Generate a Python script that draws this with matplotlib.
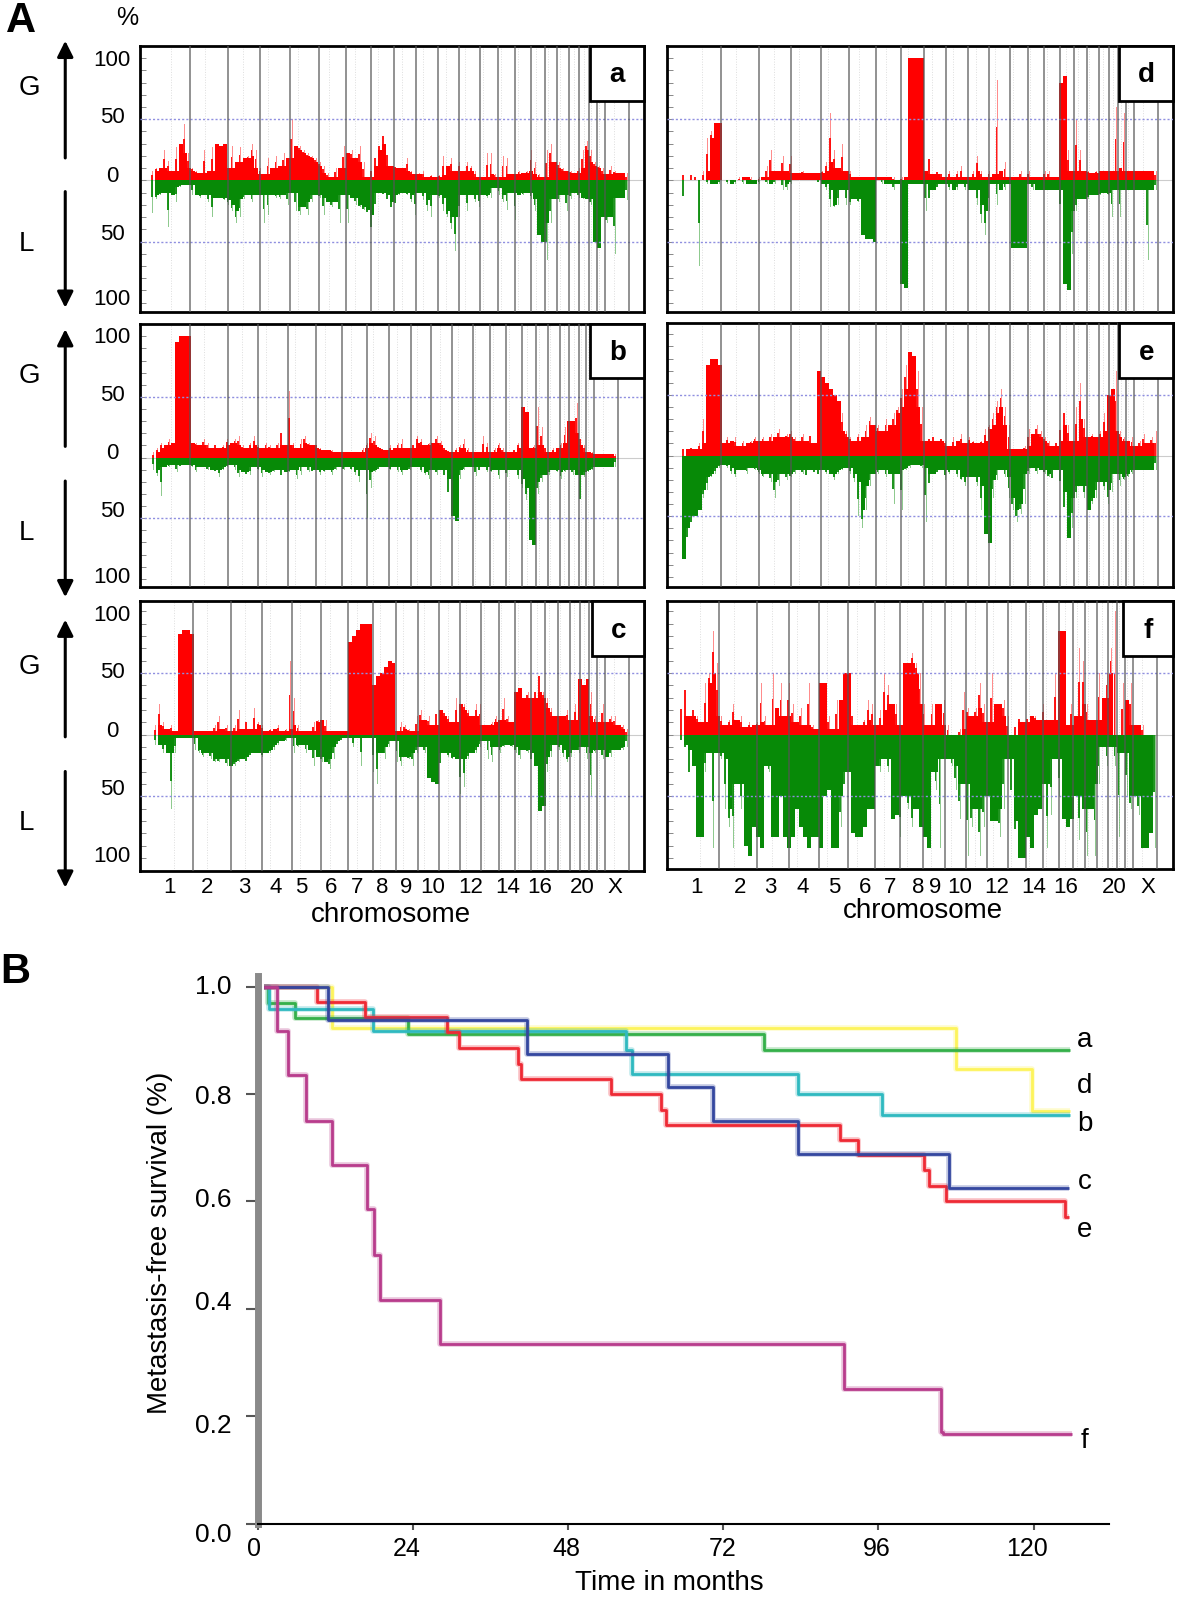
import matplotlib
matplotlib.use('Agg')
import matplotlib.pyplot as plt
import numpy as np
from matplotlib.patches import FancyArrowPatch, Rectangle

plt.rcParams['font.family'] = ['Liberation Sans', 'DejaVu Sans']

# chromosome lengths (Mb) and rough centromere positions
chrom_len = [247, 243, 199, 191, 181, 171, 159, 146, 140, 135, 134, 132,
             114, 106, 100, 89, 79, 76, 64, 62, 47, 50, 155]
centromeres = [125, 93, 91, 50, 48, 61, 60, 45, 49, 40, 54, 36, 18, 17, 18, 36, 24, 17, 28, 28, 13, 14, 60]

a_gain = [8,10,10,25,16,8,27,30,46,22, 10,8,6,25,8,27,30,28,30,10,
          28,15,27,18,20,30,25,10, 5,18,10,20,12,22,18, 50,28,28,25,22,20,18,
          15,12,6,3,10,10,28, 22,25,18,28,15,3, 12,25,32,42,30,12,
          12,10,10,18,8,5, 6,8,3,4,3, 4,20,12,18,8, 15,8,15,12,8,3,
          3,22,22,5, 3,20,18,5, 5,8,6,8, 25,15,5,3, 25,30,15, 15,10,8,
          8,6,10, 25,32, 25,15, 12,10, 5,12,8,6,6,6]
a_loss = [27,15,12,10,38,12,18,5,4,4, 12,12,14,12,18,30,14,14,16,20,
          25,35,30,15,12,18,12,12, 35,28,12,14,15,12,20, 10,25,28,22,28,18,12,
          14,28,18,22,18,35,12, 35,14,20,22,24,28, 48,28,10,12,18,25,
          25,12,10,12,18,28, 10,16,25,30,12, 14,25,30,40,58, 30,12,25,12,18,22,
          12,14,14,6, 12,18,24,10, 32,12,12,10, 15,25,45,50, 65,35,15, 18,12,25,
          15,10,14, 15,15, 20,50, 55,30, 35,30,60,14,14,16]

b_gain = [5,8,12,10,15,12,95,100,100,100, 12,12,10,15,12,8,12,8,10,15,
          12,15,18,10,8,12,18,10, 8,12,10,8,12,30,10, 55,12,8,15,18,12,10,
          12,8,6,6,6,5,5, 5,5,5,5,5,8, 12,20,18,10,8,6,
          10,8,12,15,8,8, 12,18,15,10,12, 12,18,14,10,6, 5,8,10,15,8,5,
          5,5,18,12, 5,8,12,8, 5,5,8,12, 42,38,8,10, 42,25,10, 5,8,8,
          12,25,30, 30,45, 20,10, 5,5, 3,3,3,3,3,3]
b_loss = [10,15,32,8,8,6,12,8,6,6, 8,12,8,8,10,10,12,16,10,8,
          6,10,16,12,15,14,8,10, 16,12,14,12,10,18,12, 12,10,18,14,8,12,12,
          10,14,12,10,14,10,8, 10,8,10,14,20,10, 50,25,12,10,8,8,
          10,8,12,14,10,10, 8,8,12,14,18, 10,14,10,18,38, 48,52,18,10,8,8,
          15,12,8,12, 12,10,18,10, 16,10,10,18, 25,35,68,72, 30,20,14, 14,10,12,
          18,12,10, 14,14, 55,16, 12,10, 8,8,8,8,8,8]

c_gain = [8,25,10,5,8,3,82,85,85,82, 3,3,3,3,3,8,15,5,8,3,
          8,20,5,15,5,22,10,8, 3,5,5,8,3,5,60, 30,8,3,3,3,10,12,
          12,12,3,3,3,3,3, 75,80,85,90,90,90, 40,48,50,55,60,58,
          3,10,8,5,3,15, 20,12,15,8,25, 20,20,15,10,30, 25,25,20,15,25,25,
          8,8,10,15, 12,30,15,10, 35,38,30,35, 30,40,60,35, 30,22,15, 15,15,20,
          12,25,45, 40,45, 35,15, 10,25, 10,15,15,8,8,5]
c_loss = [8,8,15,15,60,15,3,3,3,3, 12,15,18,15,20,22,22,20,25,25,
          25,22,20,25,18,15,15,18, 15,15,12,8,5,5,3, 15,10,8,15,12,25,18,
          22,22,28,20,10,5,3, 3,10,3,25,3,3, 30,40,15,20,10,5,
          22,25,18,20,25,15, 10,15,35,38,40, 30,15,18,20,20, 48,42,20,15,15,10,
          5,20,22,10, 15,10,8,10, 15,20,12,15, 25,25,62,58, 30,18,8, 12,18,22,
          18,12,15, 10,20, 50,15, 12,20, 18,18,12,12,12,10]

d_gain = [8,0,8,5,0,8,35,40,47,47, 0,0,0,0,3,3,3,3,0,3,
          3,12,25,8,8,20,8,20, 6,6,8,6,6,6,6, 8,15,55,25,10,30,8,
          8,3,3,3,3,3,3, 3,3,3,3,3,0, 3,3,100,100,100,100,
          8,30,5,8,8,3, 8,3,8,12,3, 3,8,20,8,3, 8,5,82,8,15,3,
          3,3,8,3, 8,3,3,3, 8,8,3,3, 80,85,25,8, 50,25,8, 8,6,8,
          8,8,8, 8,60, 10,55, 8,8, 8,8,8,8,8,8]
d_loss = [25,0,0,0,70,0,3,3,3,3, 0,3,3,3,0,3,3,3,3,3,
          0,3,3,3,0,8,8,3, 0,0,0,0,0,0,3, 3,8,22,22,20,8,20,
          20,15,18,45,48,48,50, 0,3,3,3,8,3, 85,88,3,3,3,3,
          25,20,8,8,3,3, 8,8,8,3,8, 8,8,20,35,45, 25,3,20,8,8,3,
          55,55,55,55, 3,8,8,8, 8,8,8,8, 30,85,90,60, 25,15,15, 15,12,12,
          12,10,12, 30,8, 30,8, 8,8, 8,8,8,65,8,8]

e_gain = [10,5,8,5,10,30,75,80,80,75, 10,15,12,15,8,12,10,12,15,12,
          15,12,18,15,22,15,18,20, 15,12,18,12,22,10,70, 65,60,55,50,45,35,20,
          15,12,18,15,25,32,25, 25,20,30,25,35,40, 55,75,85,82,70,40,
          12,15,18,12,15,12, 8,15,12,18,10, 15,12,10,12,22, 25,35,45,55,40,25,
          5,5,5,8, 22,18,25,20, 15,12,8,12, 30,45,25,12, 40,60,30, 15,18,15,
          20,35,50, 55,70, 20,15, 12,15, 8,12,18,10,15,20]
e_loss = [85,75,60,50,45,35,28,18,15,10, 8,10,15,18,12,12,15,10,12,15,
          18,15,22,35,25,15,20,18, 15,12,15,20,12,15,18, 12,15,15,20,15,12,10,
          15,22,50,60,45,25,15, 15,12,18,15,40,15, 45,12,10,8,8,10,
          55,30,15,15,12,20, 15,12,18,20,25, 18,18,25,45,65, 72,35,20,12,18,35,
          45,55,48,40, 15,10,15,12, 15,18,25,12, 30,55,68,60, 35,25,35, 45,40,35,
          22,28,40, 30,15, 25,20, 18,15, 12,12,12,12,12,12]

f_gain = [42,58,15,25,15,10,42,50,84,58, 15,8,12,25,12,15,6,10,8,10,
          42,15,8,50,22,42,15,42, 25,10,22,8,42,8,5, 42,42,15,5,28,28,50,
          50,22,8,8,12,28,25, 8,20,50,40,25,25, 8,58,58,66,58,50,
          25,8,25,25,25,28, 8,0,0,5,35, 22,15,22,42,25, 10,50,25,25,28,15,
          0,12,15,10, 15,15,15,12, 25,12,12,50, 84,84,8,25, 15,70,60, 25,12,12,
          50,30,50, 70,100, 0,42, 28,42, 8,8,8,0,0,0]
f_loss = [8,12,48,25,83,83,30,15,92,15, 20,60,75,92,40,60,90,98,75,83,
          92,25,30,83,83,50,83,92, 83,60,75,83,92,83,83, 92,50,45,92,92,75,50,
          30,80,83,83,75,60,60, 25,30,20,30,68,65, 83,50,60,75,60,75,
          83,92,30,45,92,20, 20,25,45,68,40, 98,75,60,98,75, 50,70,70,83,60,20,
          70,83,100,100, 83,92,65,60, 40,92,65,20, 50,68,75,68, 50,85,60, 98,60,98,
          40,10,25, 10,25, 83,15, 50,60, 50,65,92,92,80,92]

# survival curves: time of each drop and the level after it
surv_names = ['d', 'a', 'b', 'e', 'c', 'f']
surv_t = {
    'a': [1, 1.5, 5.7, 23.2, 78.3, 125.7],
    'd': [1, 11.5, 108, 119.8, 125.7],
    'b': [1, 1.7, 17.8, 57, 57.8, 83.5, 96.6, 125.7],
    'c': [1, 10.9, 41.7, 63.4, 70.4, 83.5, 106.9, 125.4],
    'e': [1, 9.2, 16.6, 29.3, 31.1, 40.3, 40.7, 54.6, 62.3, 63.2, 90, 92.9, 103, 103.8, 106.4, 124.8, 125.5],
    'f': [1, 3, 4.7, 7.4, 11.5, 16.9, 18, 18.9, 28.2, 90.7, 105.7, 106, 126],
}
surv_s = {
    'a': [1.0, 0.97, 0.941, 0.911, 0.882, 0.882],
    'd': [1.0, 0.923, 0.846, 0.768, 0.768],
    'b': [1.0, 0.958, 0.918, 0.881, 0.838, 0.799, 0.76, 0.76],
    'c': [1.0, 0.938, 0.875, 0.813, 0.75, 0.688, 0.624, 0.624],
    'e': [1.0, 0.971, 0.943, 0.915, 0.886, 0.856, 0.828, 0.799, 0.771, 0.743, 0.714, 0.686, 0.658, 0.628, 0.6, 0.571, 0.571],
    'f': [1.0, 0.917, 0.835, 0.75, 0.668, 0.586, 0.5, 0.417, 0.334, 0.25, 0.171, 0.167, 0.167],
}
surv_colors = {'a': '#35b04a', 'd': '#fdf45c', 'b': '#2fb9c0', 'c': '#34479f', 'e': '#ee2a35', 'f': '#b83c8c'}
surv_label_y = {'a': 1018, 'd': 1064, 'b': 1101, 'c': 1158, 'e': 1205, 'f': 1412}
surv_xticks = [0, 24, 48, 72, 96, 120]
surv_yticks = [0, 0.2, 0.4, 0.6, 0.8, 1.0]
surv_ylabels = ['0.0', '0.2', '0.4', '0.6', '0.8', '1.0']

# coordinates below are in pixels of a 1177x1568 page
W, H = 1177.0, 1568.0
fig = plt.figure(figsize=(12, 15.98), dpi=100)


def px_axes(x0, y0, x1, y1):
    return fig.add_axes([x0 / W, 1 - y1 / H, (x1 - x0) / W, (y1 - y0) / H])


# name, gain, loss, panel box, first and last data pixel, y of 0 and pixels per %
panels = [
    ('a', a_gain, a_loss, (137, 45, 632, 306), 148, 617, 177, 1.2),
    ('b', b_gain, b_loss, (137, 318, 632, 576), 149, 606, 449, 1.19),
    ('c', c_gain, c_loss, (137, 590, 632, 855), 151, 617, 721, 1.21),
    ('d', d_gain, d_loss, (654, 45, 1151, 306), 669, 1136, 177, 1.2),
    ('e', e_gain, e_loss, (654, 317, 1151, 576), 669, 1136, 447, 1.19),
    ('f', f_gain, f_loss, (654, 590, 1151, 853), 667, 1135, 721, 1.21),
]

total = sum(chrom_len)
bounds = np.cumsum(chrom_len)
starts = np.concatenate([[0], bounds[:-1]])

for name, gain, loss, box, first, last, y0, ppp in panels:
    x0, top, x1, bottom = box
    ax = px_axes(x0, top, x1, bottom)
    mb = total / (last - first)
    ax.set_xlim(-(first - x0) * mb, total + (x1 - last) * mb)
    ax.set_ylim((y0 - bottom) / ppp, (y0 - top) / ppp)

    for vals, sign, col in [(gain, 1, '#ff0000'), (loss, -1, '#078a07')]:
        v = np.array(vals, dtype=float)
        edges = np.linspace(0, total, len(v) + 1)
        step = edges[1] - edges[0]
        mids = (edges[:-1] + edges[1:]) / 2
        left = np.concatenate([[0], v[:-1]])
        right = np.concatenate([v[1:], [0]])
        # real plateaus stay solid, everything else is a low base with a comb of peaks on it
        plateau = (v >= 30) & ((np.abs(v - left) <= 0.12 * v) | (np.abs(v - right) <= 0.12 * v))
        core = np.where(plateau, v, np.minimum(np.minimum(v, left), right))
        ax.bar(mids, sign * v, width=step * 0.22, color=col, alpha=0.45, linewidth=0, zorder=2)
        ax.bar(mids - step * 0.25, sign * (core + v) / 2, width=step * 0.45, color=col, alpha=0.9, linewidth=0, zorder=2)
        ax.stairs(sign * core, edges, fill=True, baseline=0, color=col, linewidth=0, zorder=3)

    ax.axhline(0, color='#cccccc', lw=0.8, zorder=1)
    for lev in (50, -50):
        ax.axhline(lev, color='#8f8fe0', lw=1, ls=(0, (1.5, 1.5)), zorder=4)
    for c in starts + np.array(centromeres):
        ax.axvline(c, color='#dddddd', lw=0.7, ls=':', zorder=1)
    for b in bounds:
        ax.axvline(b, color='#555555', lw=1.2, alpha=0.75, zorder=5)

    ax.set_xticks([])
    ax.set_yticks(np.arange(-100, 101, 10))
    ax.tick_params(axis='y', direction='in', length=4, width=0.7, color='#888888', labelleft=False)
    for sp in ax.spines.values():
        sp.set_linewidth(2)

# survival plot
ax2 = px_axes(253, 958, 1088, 1495)
ax2.set_xlim(0, (1088 - 253) / 6.34)
ax2.set_ylim(0, (1495 - 958) / 527.0)
for n in surv_names:
    ax2.step(surv_t[n], surv_s[n], where='post', color=surv_colors[n], lw=4, alpha=0.3, solid_capstyle='butt')
    ax2.step(surv_t[n], surv_s[n], where='post', color=surv_colors[n], lw=2, solid_capstyle='butt')
ax2.set_xticks(surv_xticks)
ax2.set_yticks(surv_yticks)
ax2.tick_params(axis='x', length=4, width=1.5, color='#555555', labelbottom=False)
ax2.tick_params(axis='y', length=8.5, width=1.5, color='#555555', labelleft=False)
ax2.spines['top'].set_visible(False)
ax2.spines['right'].set_visible(False)
ax2.spines['left'].set_linewidth(5)
ax2.spines['left'].set_color('#8a8a8a')
ax2.spines['bottom'].set_linewidth(1.5)
ax2.patch.set_alpha(0)

# everything placed by hand goes on a page-sized overlay
ov = fig.add_axes([0, 0, 1, 1])
ov.set_xlim(0, W)
ov.set_ylim(H, 0)
ov.axis('off')
ov.patch.set_alpha(0)


def label(x, y, s, size=20, **kw):
    ov.text(x, y + 2, s, fontsize=size, ha='center', va='center', **kw)


label(21, 19, 'A', 30, fontweight='bold')
label(15, 952, 'B', 30, fontweight='bold')
label(125, 16, '%', 18)

boxes = [('a', 579, 45, 632, 99), ('d', 1098, 45, 1151, 99), ('b', 579, 318, 632, 371),
         ('e', 1098, 317, 1151, 371), ('c', 581, 590, 632, 644), ('f', 1101, 590, 1151, 644)]
for letter, bx0, by0, bx1, by1 in boxes:
    ov.add_patch(Rectangle((bx0, by0), bx1 - bx0, by1 - by0, fc='white', ec='black', lw=2))
    label((bx0 + bx1) / 2, (by0 + by1) / 2, letter, 20, fontweight='bold')

rows = [(40, 155, 188, 302, 84, 237, [57, 113, 171, 228, 292]),
        (323, 438, 472, 586, 367, 521, [329, 386, 443, 500, 565]),
        (608, 723, 757, 871, 652, 806, [602, 658, 716, 773, 838])]
for up_top, up_bot, dn_top, dn_bot, g_y, l_y, tick_y in rows:
    for a, b in [(up_bot, up_top), (dn_top, dn_bot)]:
        ov.add_patch(FancyArrowPatch((64, a), (64, b), arrowstyle='-|>', mutation_scale=24, lw=2.2,
                                     color='black', shrinkA=0, shrinkB=0))
    label(29, g_y, 'G')
    label(26, l_y, 'L')
    for ty, lab in zip(tick_y, ['100', '50', '0', '50', '100']):
        label(110, ty, lab, 16)

chrom_labels = ['1', '2', '3', '4', '5', '6', '7', '8', '9', '10', '12', '14', '16', '20', 'X']
left_x = [166, 203, 240, 270, 295, 325, 350, 375, 398, 424, 462, 498, 529, 571, 603]
right_x = [683, 726, 756, 787, 818, 848, 873, 901, 917, 941, 978, 1014, 1045, 1093, 1126]
for lab, lx, rx in zip(chrom_labels, left_x, right_x):
    label(lx, 869, lab, 16)
    label(rx, 869, lab, 16)
label(383, 896, 'chromosome')
label(905, 892, 'chromosome')

label(157, 1217, 'Metastasis-free survival (%)', rotation=90)
label(656, 1551, 'Time in months')
for n, ly in surv_label_y.items():
    label(1064, ly, n)

# survival tick labels sit a little off their ticks
for lab, ty in zip(surv_ylabels, [1504, 1397, 1277, 1175, 1074, 966]):
    label(209, ty, lab, 19)
for val, tx in zip(surv_xticks, [249, 399, 556, 709, 860, 1007]):
    label(tx, 1518, str(val), 18)

fig.savefig('out.png', dpi=100, facecolor='white')
